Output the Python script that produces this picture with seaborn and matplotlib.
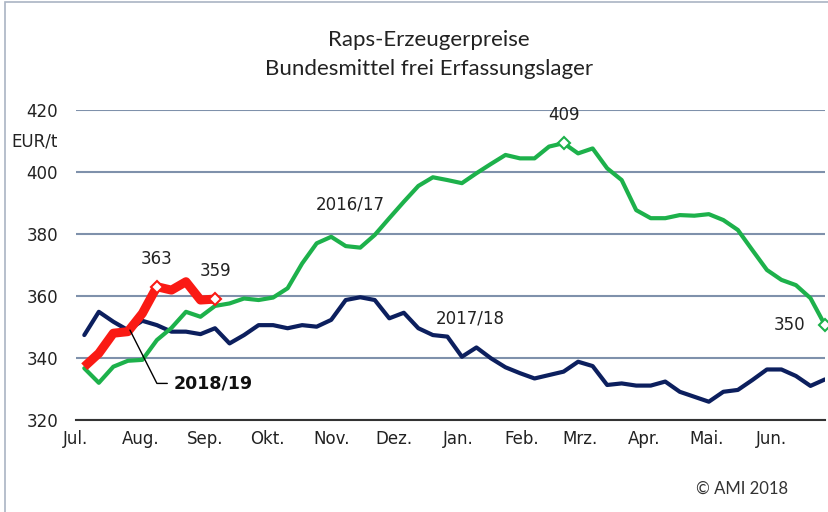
import pandas as pd
import numpy as np
import matplotlib.pyplot as plt
import matplotlib.dates as mdates
from matplotlib.patches import Rectangle
import seaborn as sns

# weekly prices, EUR/t, one marketing year Jul-Jun
season_1617 = [336.7, 332.0, 337.2, 339.1, 339.4, 345.8, 349.7, 354.9, 353.3, 356.8,
               357.6, 359.2, 358.7, 359.5, 362.5, 370.5, 377.0, 379.1, 376.1, 375.6,
               379.7, 385.1, 390.4, 395.5, 398.3, 397.4, 396.4, 399.6, 402.6, 405.5,
               404.4, 404.4, 408.2, 409.3, 406.0, 407.6, 401.2, 397.4, 387.7, 385.1,
               385.1, 386.1, 385.9, 386.4, 384.5, 381.3, 374.8, 368.4, 365.2, 363.5,
               359.3, 350.6]
season_1718 = [347.4, 354.9, 351.7, 349.0, 352.0, 350.6, 348.5, 348.5, 347.7, 349.6,
               344.7, 347.4, 350.6, 350.6, 349.6, 350.6, 350.1, 352.3, 358.7, 359.6,
               358.7, 352.8, 354.6, 349.6, 347.4, 346.9, 340.4, 343.4, 339.9, 337.0,
               335.1, 333.4, 334.5, 335.6, 338.8, 337.4, 331.3, 331.8, 331.1, 331.1,
               332.4, 329.1, 327.5, 325.9, 329.1, 329.7, 332.9, 336.3, 336.3, 334.2,
               331.0, 333.1]
season_1819 = [337.2, 341.5, 348.0, 348.5, 354.4, 363.0, 361.9, 364.6, 358.7, 359.0]

month_labels = ['Jul.', 'Aug.', 'Sep.', 'Okt.', 'Nov.', 'Dez.',
                'Jan.', 'Feb.', 'Mrz.', 'Apr.', 'Mai.', 'Jun.']
yticks = [320, 340, 360, 380, 400, 420]

weeks = pd.date_range('2018-07-05', periods=52, freq='7D')
month_starts = pd.date_range('2018-07-01', periods=12, freq='MS')

GREEN = '#1db14b'
NAVY = '#0c1f5e'
RED = '#fa1a14'
GRID = '#7f91ab'

sns.set_style('white')
plt.rcParams['font.family'] = ['DejaVu Sans']

fig = plt.figure(figsize=(8.29, 5.12), dpi=100)
ax = fig.add_axes([76 / 829, 92 / 512, 749 / 829, 310 / 512])

sns.lineplot(x=weeks, y=season_1718, ax=ax, color=NAVY, linewidth=3)
sns.lineplot(x=weeks, y=season_1617, ax=ax, color=GREEN, linewidth=3)
sns.lineplot(x=weeks[:len(season_1819)], y=season_1819, ax=ax, color=RED,
             linewidth=6.5, solid_capstyle='butt')

# highlighted points with their values
marks = [(weeks[5], season_1819[5], RED, '363', (0, 20), 'center'),
         (weeks[9], season_1819[9], RED, '359', (0, 20), 'center'),
         (weeks[33], season_1617[33], GREEN, '409', (0, 20), 'center'),
         (weeks[51], season_1617[51], GREEN, '350', (-14, 0), 'right')]
for x, y, c, txt, off, ha in marks:
    ax.plot([x], [y], marker='D', markersize=6, markerfacecolor='white',
            markeredgecolor=c, markeredgewidth=1.5, clip_on=False, zorder=5)
    ax.annotate(txt, (x, y), xytext=off, textcoords='offset points',
                ha=ha, va='center', fontsize=12, color='#222222')

ax.text(pd.Timestamp('2018-11-10'), 389.4, '2016/17', ha='center', va='center',
        fontsize=12, color='#222222')
ax.text(pd.Timestamp('2019-01-07'), 352.8, '2017/18', ha='center', va='center',
        fontsize=12, color='#222222')
ax.text(pd.Timestamp('2018-08-17'), 331.8, '2018/19', ha='left', va='center',
        fontsize=12.5, fontweight='bold', color='#111111')
ax.plot([pd.Timestamp('2018-07-27'), pd.Timestamp('2018-08-09'), pd.Timestamp('2018-08-14')],
        [349.0, 331.8, 331.8], color='black', linewidth=1, zorder=6)

ax.set_xlim(pd.Timestamp('2018-07-01'), pd.Timestamp('2019-06-27'))
ax.set_ylim(320, 420)
ax.set_yticks(yticks)
ax.set_xticks(month_starts)
ax.set_xticklabels(month_labels)
ax.set_xlabel('')
ax.set_ylabel('')

ax.yaxis.grid(True, color=GRID, linewidth=1.5)
ax.xaxis.grid(False)
ax.set_axisbelow(True)
for s in ['left', 'top', 'right']:
    ax.spines[s].set_visible(False)
ax.spines['bottom'].set_color('#333333')
ax.spines['bottom'].set_linewidth(1.5)
ax.spines['bottom'].set_zorder(1)
ax.tick_params(axis='y', length=0, pad=13, labelsize=12, labelcolor='#222222')
ax.tick_params(axis='x', direction='out', length=4, width=1.2, color='#333333',
               pad=3, labelsize=12, labelcolor='#222222')

fig.text(11 / 829, 1 - 141 / 512, 'EUR/t', ha='left', va='center',
         fontsize=12, color='#222222')
fig.text(429 / 829, 1 - 40 / 512, 'Raps-Erzeugerpreise', ha='center', va='center',
         fontsize=16, family='Lato', color='#222222')
fig.text(429 / 829, 1 - 69 / 512, 'Bundesmittel frei Erfassungslager', ha='center',
         va='center', fontsize=16, family='Lato', color='#222222')
fig.text(788 / 829, 1 - 489 / 512, '\u00a9 AMI 2018', ha='right', va='center',
         fontsize=12, family='Lato', color='#333333')

fig.patches.append(Rectangle((5 / 829, -0.1), 1.2, 1.1 - 2 / 512, transform=fig.transFigure,
                             fill=False, edgecolor='#aab4c3', linewidth=1.2))

fig.savefig('out.png', dpi=100)
